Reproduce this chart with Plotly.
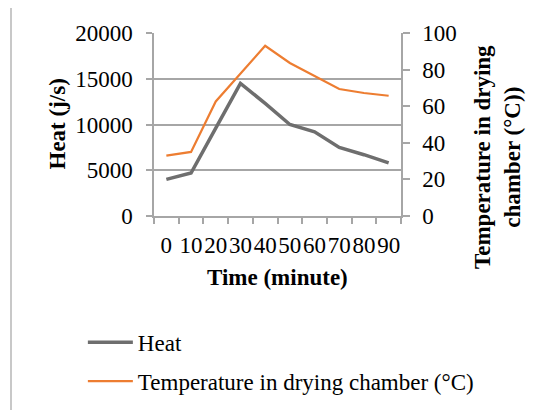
import plotly.graph_objects as go

time_min = ["0", "10", "20", "30", "40", "50", "60", "70", "80", "90"]
heat = [4000, 4700, 9600, 14500, 12300, 10000, 9200, 7500, 6700, 5800]
temperature = [33, 35, 62.6, 78, 93, 83.6, 76.3, 69.4, 67.2, 65.7]

FONT = "Liberation Serif"
GRID = "#a6a6a6"
FS = 23

fig = go.Figure()
fig.add_trace(go.Scatter(x=time_min, y=heat, name="Heat", mode="lines",
                         line=dict(color="#6e6e6e", width=3.5), legendgroup="a"))
fig.add_trace(go.Scatter(x=time_min, y=temperature, name="Temperature in drying chamber (°C)",
                         mode="lines", line=dict(color="#ed7d31", width=2.2),
                         yaxis="y2", legendgroup="b"))

fig.update_layout(
    width=539, height=410,
    margin=dict(l=146, r=146, t=25, b=202, autoexpand=False),
    paper_bgcolor="white", plot_bgcolor="white",
    font=dict(family=FONT, size=FS, color="black"),
    xaxis=dict(type="category", range=[-0.5, len(time_min) - 0.5],
               showgrid=False, showline=True, linecolor=GRID, linewidth=1.5,
               ticks="outside", tickson="boundaries", ticklen=6, tickcolor=GRID, tickwidth=1.5,
               tickmode="linear", dtick=1,
               tickangle=0, tickfont=dict(size=FS), ticklabelstandoff=8, automargin=False),
    yaxis=dict(range=[0, 20000], dtick=5000, showgrid=True, gridcolor=GRID, gridwidth=1.5,
               showline=True, linecolor=GRID, linewidth=1.5, zeroline=False,
               ticks="outside", ticklen=6, tickcolor=GRID, tickwidth=1.5,
               tickformat="d", tickfont=dict(size=FS), ticklabelstandoff=9, automargin=False),
    yaxis2=dict(range=[0, 100], dtick=20, overlaying="y", side="right", showgrid=False,
                showline=True, linecolor=GRID, linewidth=1.5, zeroline=False,
                ticks="outside", ticklen=7, tickcolor=GRID, tickwidth=1.5,
                tickfont=dict(size=FS), ticklabelstandoff=8, automargin=False),
    showlegend=True,
    legend=dict(x=-0.288, y=-0.573, xanchor="left", yanchor="top", bgcolor="rgba(0,0,0,0)",
                font=dict(size=FS), tracegroupgap=6, traceorder="grouped", itemwidth=45),
)

fig.add_annotation(text="<b>Heat (j/s)</b>", xref="paper", yref="paper",
                   x=(57 - 154) / 247, y=0.5, textangle=-90, showarrow=False,
                   xanchor="center", yanchor="middle", font=dict(size=FS))
fig.add_annotation(text="<b>Time (minute)</b>", xref="paper", yref="paper",
                   x=0.5, y=(216 - 277) / 183, showarrow=False,
                   xanchor="center", yanchor="middle", font=dict(size=FS))
fig.add_annotation(text="<b>Temperature in drying<br>chamber (°C))</b>", xref="paper", yref="paper",
                   x=(497 - 154) / 247, y=(216 - 157) / 183, textangle=-90, showarrow=False,
                   xanchor="center", yanchor="middle", font=dict(size=FS))

fig.add_shape(type="rect", xref="paper", yref="paper",
              x0=(11 - 154) / 247, x1=(560 - 154) / 247,
              y0=(216 - 430) / 183, y1=(216 - 7) / 183,
              line=dict(color="#c8c8c8", width=2), layer="below")

fig.write_html("out.html")
